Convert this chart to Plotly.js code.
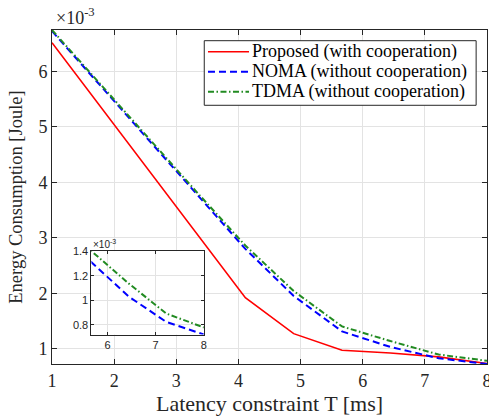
<!DOCTYPE html>
<html>
<head>
<meta charset="utf-8">
<script src="https://cdn.plot.ly/plotly-3.0.1.min.js"></script>
<style>html,body{margin:0;padding:0;background:#fff;}#chart{width:489px;height:420px;}</style>
</head>
<body>
<div id="chart"></div>
<script>
// Latency constraint T [ms]
var latency = [1, 1.778, 2.556, 3.333, 4.111, 4.889, 5.667, 6.444, 7.222, 8];
// Energy consumption [Joule]
var proposed = [6.52e-3, 5.37e-3, 4.22e-3, 3.07e-3, 1.92e-3, 1.27e-3, 0.97e-3, 0.92e-3, 0.85e-3, 0.73e-3];
var noma     = [6.73e-3, 5.75e-3, 4.77e-3, 3.79e-3, 2.80e-3, 1.95e-3, 1.31e-3, 1.03e-3, 0.825e-3, 0.723e-3];
var tdma     = [6.75e-3, 5.77e-3, 4.79e-3, 3.82e-3, 2.86e-3, 2.04e-3, 1.40e-3, 1.136e-3, 0.893e-3, 0.78e-3];
var seriesNames = ['Proposed (with cooperation)', 'NOMA (without cooperation)', 'TDMA (without cooperation)'];
var mainXTicks = [1, 2, 3, 4, 5, 6, 7, 8];
var mainYTicks = [1e-3, 2e-3, 3e-3, 4e-3, 5e-3, 6e-3];
var mainYTickText = ['1', '2', '3', '4', '5', '6'];
var insetXTicks = [6, 7, 8];
var insetYTicks = [0.8e-3, 1.0e-3, 1.2e-3, 1.4e-3];
var insetYTickText = ['0.8', '1', '1.2', '1.4'];

var RED = '#ff0000', BLUE = '#0000ff', GREEN = '#228b22';
var AX = '#262626';
var SERIF = '"Liberation Serif", "Times New Roman", serif';
var SANS = '"Liberation Sans", Arial, sans-serif';
var styles = [
  {color: RED, width: 1.6},
  {color: BLUE, width: 2, dash: '7px,4px'},
  {color: GREEN, width: 2, dash: '6px,2.5px,1.5px,2.5px'}
];

var traces = [
  {x: latency, y: proposed, name: seriesNames[0], mode: 'lines', line: styles[0]},
  {x: latency, y: noma, name: seriesNames[1], mode: 'lines', line: styles[1]},
  {x: latency, y: tdma, name: seriesNames[2], mode: 'lines', line: styles[2]},
  {x: latency, y: noma, name: seriesNames[1], mode: 'lines', xaxis: 'x2', yaxis: 'y2', line: styles[1]},
  {x: latency, y: tdma, name: seriesNames[2], mode: 'lines', xaxis: 'x2', yaxis: 'y2', line: styles[2]}
];

// legend drawn as box + sample lines + labels (paper coordinates)
var legX0 = 0.350, legX1 = 0.975, legY0 = 0.7746, legY1 = 0.968;
var rowY = [0.935, 0.875, 0.815];
var sampleX0 = 0.3586, sampleX1 = 0.4529, labelX = 0.4598;

var shapes = [{type: 'rect', xref: 'paper', yref: 'paper', x0: legX0, x1: legX1, y0: legY0, y1: legY1,
  fillcolor: '#fff', line: {color: AX, width: 1}, layer: 'above'}];
var annotations = [
  {xref: 'paper', yref: 'paper', x: 0, y: 1, xanchor: 'left', yanchor: 'bottom', yshift: 0, xshift: 2,
   text: '×10<sup>-3</sup>', showarrow: false, font: {family: SERIF, size: 18, color: AX}},
  {xref: 'paper', yref: 'paper', x: 0.0906, y: 0.338, xanchor: 'left', yanchor: 'bottom', yshift: -1,
   text: '×10<sup>-3</sup>', showarrow: false, font: {family: SANS, size: 10, color: AX}}
];
for (var i = 0; i < seriesNames.length; i++) {
  shapes.push({type: 'line', xref: 'paper', yref: 'paper', x0: sampleX0, x1: sampleX1, y0: rowY[i], y1: rowY[i],
    line: styles[i], layer: 'above'});
  annotations.push({xref: 'paper', yref: 'paper', x: labelX, y: rowY[i], xanchor: 'left', yanchor: 'middle',
    xshift: -2, yshift: 0, text: seriesNames[i], showarrow: false, font: {family: SERIF, size: 18, color: '#000'}});
}

var layout = {
  width: 489, height: 420,
  margin: {l: 52, r: 2, t: 30, b: 56},
  paper_bgcolor: '#fff', plot_bgcolor: '#fff',
  showlegend: false,
  font: {family: SERIF, color: AX},
  xaxis: {
    domain: [0, 1], range: [1, 8], tickvals: mainXTicks,
    showgrid: true, gridcolor: '#e3e3e3', gridwidth: 1, zeroline: false,
    showline: true, linecolor: AX, linewidth: 1, mirror: 'ticks',
    ticks: 'inside', ticklen: 5, tickcolor: AX, ticklabeloverflow: 'allow',
    tickfont: {family: SERIF, size: 18, color: AX},
    title: {text: 'Latency constraint T [ms]', font: {family: SERIF, size: 22, color: AX}, standoff: 4},
    automargin: false
  },
  yaxis: {
    domain: [0, 1], range: [0.722e-3, 6.75e-3], tickvals: mainYTicks, ticktext: mainYTickText,
    showgrid: true, gridcolor: '#e3e3e3', gridwidth: 1, zeroline: false,
    showline: true, linecolor: AX, linewidth: 1, mirror: 'ticks',
    ticks: 'inside', ticklen: 5, tickcolor: AX, ticklabeloverflow: 'allow',
    tickfont: {family: SERIF, size: 18, color: AX},
    title: {text: 'Energy Consumption [Joule]', font: {family: SERIF, size: 18.5, color: AX}, standoff: 10},
    automargin: false
  },
  xaxis2: {
    domain: [0.0906, 0.349], anchor: 'y2', range: [5.667, 8], tickvals: insetXTicks,
    showgrid: true, gridcolor: '#e3e3e3', zeroline: false,
    showline: true, linecolor: AX, linewidth: 1, mirror: 'ticks',
    ticks: 'inside', ticklen: 3, tickcolor: AX,
    tickfont: {family: SANS, size: 11, color: AX}, automargin: false
  },
  yaxis2: {
    domain: [0.088, 0.338], anchor: 'x2', range: [0.722e-3, 1.4e-3], tickvals: insetYTicks, ticktext: insetYTickText,
    showgrid: true, gridcolor: '#e3e3e3', zeroline: false,
    showline: true, linecolor: AX, linewidth: 1, mirror: 'ticks',
    ticks: 'inside', ticklen: 3, tickcolor: AX,
    tickfont: {family: SANS, size: 11, color: AX}, automargin: false
  },
  shapes: shapes,
  annotations: annotations
};

Plotly.newPlot('chart', traces, layout, {staticPlot: true, displayModeBar: false});
</script>
</body>
</html>
